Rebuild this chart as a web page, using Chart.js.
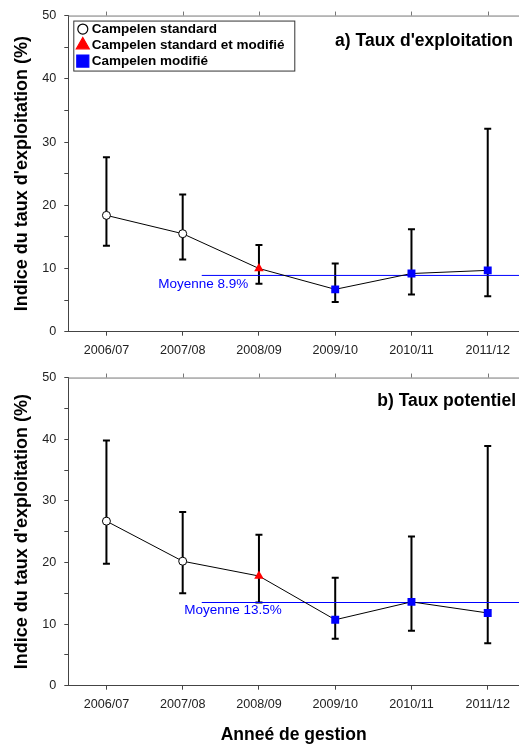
<!DOCTYPE html>
<html>
<head>
<meta charset="utf-8">
<script src="https://cdn.jsdelivr.net/npm/chart.js@4/dist/chart.umd.min.js"></script>
<style>
  html, body { margin: 0; padding: 0; background: #fff; }
  #page { position: relative; width: 519px; height: 744px; overflow: hidden; }
  .panel { position: absolute; left: 0; width: 519px; }
  #panelA { top: 0; height: 362px; }
  #panelB { top: 362px; height: 382px; }
</style>
</head>
<body>
<div id="page">
  <div class="panel" id="panelA"><canvas id="chartA"></canvas></div>
  <div class="panel" id="panelB"><canvas id="chartB"></canvas></div>
</div>
<script>
// Data
const categories = ["2006/07", "2007/08", "2008/09", "2009/10", "2010/11", "2011/12"];
const gearType = ["standard", "standard", "mixte", "modifie", "modifie", "modifie"];
const gearLabels = {
    standard: "Campelen standard",
    mixte: "Campelen standard et modifié",
    modifie: "Campelen modifié"
};

// a) Taux d'exploitation
const exploitValues = [18.4, 15.5, 10.0, 6.7, 9.2, 9.7];
const exploitLower = [13.6, 11.4, 7.6, 4.7, 5.9, 5.6];
const exploitUpper = [27.6, 21.7, 13.7, 10.8, 16.2, 32.1];
const exploitMean = 8.9;

// b) Taux potentiel
const potentielValues = [26.7, 20.2, 17.8, 10.7, 13.6, 11.8];
const potentielLower = [19.8, 15.0, 13.5, 7.6, 8.9, 6.9];
const potentielUpper = [39.8, 28.2, 24.5, 17.5, 24.2, 38.9];
const potentielMean = 13.5;

const yTicks = [0, 10, 20, 30, 40, 50];

const FONT = "'Liberation Sans', Arial, Helvetica, sans-serif";
const X_MIN = -0.5;
const X_MAX = 5.41;       // the plot runs off the right edge of the figure
const MEAN_START = 1.25;

const gearStyles = {
    standard: { pointStyle: "circle", radius: 4, bg: "#ffffff", border: "#000000", borderWidth: 1 },
    mixte: { pointStyle: "triangle", radius: 5.5, bg: "#ff0000", border: "#ff0000", borderWidth: 0 },
    modifie: { pointStyle: "rect", radius: 5.6, bg: "#0000ff", border: "#0000ff", borderWidth: 0 }
};

// error bars, top frame, panel title, mean label and legend
const decorPlugin = {
    id: "decor",
    beforeDatasetsDraw(chart) {
        const p = chart.options.plugins.decor;
        const xs = chart.scales.x, ys = chart.scales.y;
        const ctx = chart.ctx;
        ctx.save();
        ctx.strokeStyle = "#000";
        ctx.lineWidth = 2;
        p.lower.forEach((lo, i) => {
            const x = xs.getPixelForValue(i);
            const y1 = ys.getPixelForValue(lo);
            const y2 = ys.getPixelForValue(p.upper[i]);
            ctx.beginPath();
            ctx.moveTo(x, y1); ctx.lineTo(x, y2);
            ctx.moveTo(x - 3.5, y1); ctx.lineTo(x + 3.5, y1);
            ctx.moveTo(x - 3.5, y2); ctx.lineTo(x + 3.5, y2);
            ctx.stroke();
        });
        ctx.restore();
    },
    afterDraw(chart) {
        const p = chart.options.plugins.decor;
        const xs = chart.scales.x, ys = chart.scales.y;
        const area = chart.chartArea;
        const ctx = chart.ctx;
        ctx.save();

        // top border with outward ticks
        ctx.strokeStyle = "#777";
        ctx.lineWidth = 1;
        ctx.beginPath();
        ctx.moveTo(area.left, area.top + 0.5);
        ctx.lineTo(area.right, area.top + 0.5);
        categories.forEach((c, i) => {
            const x = Math.round(xs.getPixelForValue(i)) + 0.5;
            ctx.moveTo(x, area.top);
            ctx.lineTo(x, area.top - 4);
        });
        ctx.stroke();

        // panel title
        ctx.fillStyle = "#000";
        ctx.font = "bold 17.5px " + FONT;
        ctx.textAlign = "right";
        ctx.textBaseline = "middle";
        ctx.fillText(p.title, p.titleRight, area.top + p.titleDy);

        // mean label
        ctx.fillStyle = "#0000ff";
        ctx.font = "13.5px " + FONT;
        ctx.fillText(p.meanText, xs.getPixelForValue(p.meanLabelAt), ys.getPixelForValue(p.mean) + p.meanLabelDy);

        // legend
        if (p.legend) {
            const bx = area.left + 5, by = area.top + 5, bw = 221, bh = 50;
            ctx.strokeStyle = "#333";
            ctx.lineWidth = 1;
            ctx.strokeRect(bx + 0.5, by + 0.5, bw, bh);
            ctx.font = "bold 13.5px " + FONT;
            ctx.textAlign = "left";
            ctx.fillStyle = "#000";
            Object.keys(gearLabels).forEach((key, k) => {
                const s = gearStyles[key];
                const cy = by + 8.5 + k * 16;
                ctx.fillStyle = s.bg;
                ctx.strokeStyle = s.border;
                ctx.lineWidth = key === "standard" ? 1.2 : 0;
                Chart.helpers.drawPoint(ctx, {
                    pointStyle: s.pointStyle,
                    radius: key === "standard" ? 5 : key === "mixte" ? 7.5 : 8.5,
                    borderWidth: ctx.lineWidth,
                    rotation: 0
                }, bx + 9.5, cy);
                ctx.fillStyle = "#000";
                ctx.fillText(gearLabels[key], bx + 18.5, cy + 0.5);
            });
        }
        ctx.restore();
    }
};

function pointsOf(values, keep) {
    return categories.map((c, i) => ({ x: i, y: keep(i) ? values[i] : null }));
}

function buildPanel(canvasId, values, lower, upper, mean, opts) {
    const datasets = [];
    Object.keys(gearLabels).forEach(key => {
        const s = gearStyles[key];
        datasets.push({
            label: gearLabels[key],
            data: pointsOf(values, i => gearType[i] === key),
            showLine: false,
            pointStyle: s.pointStyle,
            pointRadius: s.radius,
            pointBackgroundColor: s.bg,
            pointBorderColor: s.border,
            pointBorderWidth: s.borderWidth,
            order: 0
        });
    });
    datasets.push({
        label: "ligne",
        data: pointsOf(values, () => true),
        borderColor: "#000",
        borderWidth: 1,
        pointRadius: 0,
        order: 2
    });
    datasets.push({
        label: "Moyenne",
        data: [{ x: MEAN_START, y: mean }, { x: X_MAX, y: mean }],
        borderColor: "#0000ff",
        borderWidth: 1,
        pointRadius: 0,
        order: 3
    });

    return new Chart(document.getElementById(canvasId), {
        type: "line",
        data: { datasets },
        plugins: [decorPlugin],
        options: {
            responsive: true,
            maintainAspectRatio: false,
            animation: false,
            events: [],
            layout: { autoPadding: false, padding: { top: opts.padTop, right: 0, bottom: 0, left: 0 } },
            plugins: {
                legend: { display: false },
                tooltip: { enabled: false },
                decor: {
                    lower, upper, mean,
                    title: opts.title,
                    titleRight: opts.titleRight,
                    titleDy: opts.titleDy,
                    meanText: "Moyenne " + mean.toFixed(1) + "%",
                    meanLabelAt: opts.meanLabelAt,
                    meanLabelDy: opts.meanLabelDy,
                    legend: opts.legend
                }
            },
            scales: {
                x: {
                    type: "linear",
                    min: X_MIN,
                    max: X_MAX,
                    afterFit: s => { s.height = opts.xHeight; },
                    border: { color: "#444", width: 1 },
                    grid: { drawOnChartArea: false, tickLength: 4, tickColor: "#444" },
                    ticks: {
                        stepSize: 1,
                        includeBounds: false,
                        autoSkip: false,
                        maxRotation: 0,
                        padding: 7,
                        color: "#222",
                        font: { family: FONT, size: 12.6 },
                        callback: v => categories[v] || ""
                    },
                    title: {
                        display: opts.xTitle,
                        text: "Anneé de gestion",
                        color: "#000",
                        font: { family: FONT, size: 17.5, weight: "bold", lineHeight: 1 },
                        padding: { top: 0, bottom: 0.5 }
                    }
                },
                y: {
                    min: 0,
                    max: 50,
                    afterFit: s => { s.width = 68.3; },
                    border: { color: "#444", width: 1 },
                    grid: { drawOnChartArea: false, tickLength: 4, tickColor: "#444" },
                    ticks: {
                        stepSize: 2.5,
                        padding: 8,
                        color: "#222",
                        font: { family: FONT, size: 12.6 },
                        callback: v => yTicks.includes(v) ? String(v) : ""
                    },
                    title: {
                        display: true,
                        text: "Indice du taux d'exploitation (%)",
                        color: "#000",
                        font: { family: FONT, size: 18, weight: "bold", lineHeight: 1.2 },
                        padding: { top: 11, bottom: 0 }
                    }
                }
            }
        }
    });
}

buildPanel("chartA", exploitValues, exploitLower, exploitUpper, exploitMean, {
    padTop: 12.3, xHeight: 30.3, xTitle: false,
    title: "a) Taux d'exploitation", titleRight: 513, titleDy: 26,
    meanLabelAt: 1.86, meanLabelDy: 9, legend: true
});

buildPanel("chartB", potentielValues, potentielLower, potentielUpper, potentielMean, {
    padTop: 4, xHeight: 58.3, xTitle: true,
    title: "b) Taux potentiel", titleRight: 516, titleDy: 24,
    meanLabelAt: 2.3, meanLabelDy: 7.6, legend: false
});
</script>
</body>
</html>
